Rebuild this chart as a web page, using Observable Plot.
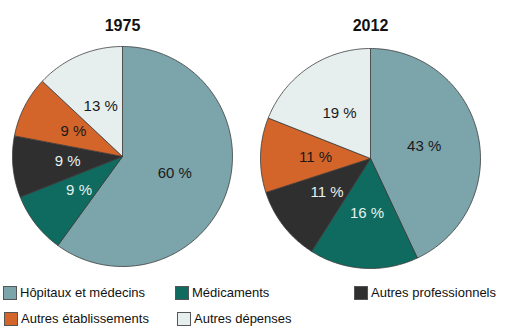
<!DOCTYPE html>
<html><head><meta charset="utf-8">
<script src="https://cdn.jsdelivr.net/npm/d3@7"></script>
<script src="https://cdn.jsdelivr.net/npm/@observablehq/plot@0.6"></script>
<style>
body{margin:0;background:#fff;font-family:Arial,"Liberation Sans",sans-serif}
#wrap{position:relative;width:505px;height:333px;overflow:hidden}
#chart svg{display:block}
.item{position:absolute;display:flex;align-items:center;font-size:13px;color:#111;white-space:nowrap;line-height:14px}
.sw{width:12px;height:12px;border:1px solid #555;margin-right:3px;box-sizing:content-box}
</style></head><body>
<div id="wrap"><div id="chart"></div></div>
<script>
const categories = ["Hôpitaux et médecins","Médicaments","Autres professionnels","Autres établissements","Autres dépenses"];
const years = ["1975","2012"];
const values1975 = [60, 9, 9, 9, 13];
const values2012 = [43, 16, 11, 11, 19];
const colors = ["#7ba5ab","#0f6b5f","#2f2f2f","#d3642a","#e6efee"];
const lightLabel = ["Médicaments","Autres professionnels"];

// layout
const W = 505, H = 280, R = 110;
const centers = {"1975": [122, 156], "2012": [370, 158]};
const valuesByYear = {"1975": values1975, "2012": values2012};

const pie = d3.pie().sort(null).value(d => d.value);
const slicePts = [];
const labels = [];
const titles = [];
for (const year of years) {
  const [cx, cy] = centers[year];
  titles.push({year, x: cx, y: 25});
  const rows = categories.map((c, i) => ({category: c, value: valuesByYear[year][i]}));
  for (const a of pie(rows)) {
    const id = year + "|" + a.data.category;
    slicePts.push({id, category: a.data.category, x: cx, y: cy});
    const n = Math.max(2, Math.ceil((a.endAngle - a.startAngle) / (Math.PI / 180)));
    for (let k = 0; k <= n; k++) {
      const t = a.startAngle + (a.endAngle - a.startAngle) * k / n;
      slicePts.push({id, category: a.data.category, x: cx + R * Math.sin(t), y: cy - R * Math.cos(t)});
    }
    slicePts.push({id, category: a.data.category, x: cx, y: cy});
    const m = (a.startAngle + a.endAngle) / 2, rl = R * 0.5;
    labels.push({category: a.data.category, text: a.data.value + " %", x: cx + rl * Math.sin(m), y: cy - rl * Math.cos(m)});
  }
}

const plot = Plot.plot({
  width: W, height: H,
  margin: 0,
  x: {domain: [0, W], range: [0, W], axis: null},
  y: {domain: [0, H], range: [0, H], axis: null},
  color: {domain: categories, range: colors},
  marks: [
    Plot.line(slicePts, {x: "x", y: "y", z: "id", fill: "category", stroke: "#3a3a3a", strokeWidth: 0.8, curve: "linear"}),
    Plot.text(labels.filter(d => !lightLabel.includes(d.category)), {x: "x", y: "y", text: "text", fill: "#1a1a1a", fontSize: 15, fontFamily: "Arial, Liberation Sans, sans-serif"}),
    Plot.text(labels.filter(d => lightLabel.includes(d.category)), {x: "x", y: "y", text: "text", fill: "#e6f2f0", fontSize: 15, fontFamily: "Arial, Liberation Sans, sans-serif"}),
    Plot.text(titles, {x: "x", y: "y", text: "year", fill: "#111", fontSize: 16, fontWeight: "bold", fontFamily: "Arial, Liberation Sans, sans-serif"})
  ]
});
document.getElementById("chart").appendChild(plot);

// legend
const legendPos = [[3, 293], [175, 293], [354, 293], [4, 319], [177, 319]];
const wrap = document.getElementById("wrap");
categories.forEach((c, i) => {
  const it = document.createElement("div");
  it.className = "item";
  it.style.left = legendPos[i][0] + "px";
  it.style.top = (legendPos[i][1] - 7) + "px";
  const sw = document.createElement("span");
  sw.className = "sw";
  sw.style.background = colors[i];
  it.appendChild(sw);
  const tx = document.createElement("span");
  tx.textContent = c;
  it.appendChild(tx);
  wrap.appendChild(it);
});
</script></body></html>
